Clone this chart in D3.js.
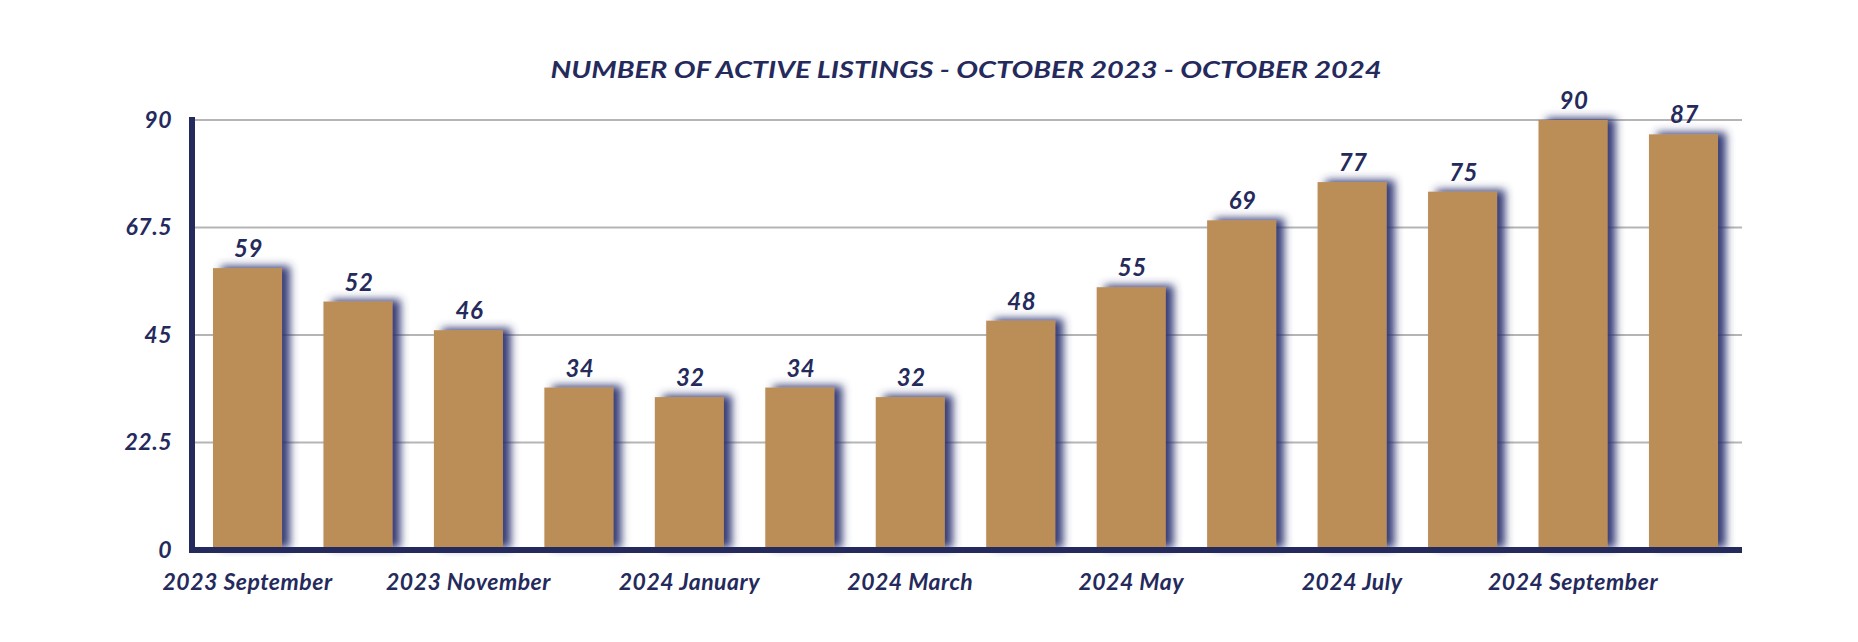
<!DOCTYPE html>
<html>
<head>
<meta charset="utf-8">
<script src="https://cdn.jsdelivr.net/npm/d3@7"></script>
<style>
html,body{margin:0;padding:0;background:#fff;}
svg{display:block;}
text{font-family:Lato,"Open Sans",sans-serif;font-weight:700;font-style:italic;fill:#252a5c;}
</style>
</head>
<body>
<svg id="chart" width="1858" height="642"></svg>
<script>
const categories = ["2023 September","2023 October","2023 November","2023 December","2024 January","2024 February","2024 March","2024 April","2024 May","2024 June","2024 July","2024 August","2024 September","2024 October"];
const listings = [59,52,46,34,32,34,32,48,55,69,77,75,90,87];
const yTicks = [0,22.5,45,67.5,90];
const yTickLabels = ["0","22.5","45","67.5","90"];
const titleText = "NUMBER OF ACTIVE LISTINGS - OCTOBER 2023 - OCTOBER 2024";

const navy = "#252a5c", gold = "#bb8e58";
const svg = d3.select("#chart");
const x0 = 192, x1 = 1742, yTop = 120, yBase = 550;

const x = d3.scaleBand().domain(categories).range([x0, 1739]).paddingInner(0.375).paddingOuter(0.19);
const y = d3.scaleLinear().domain([0, 90]).range([yBase, yTop]);

const defs = svg.append("defs");
const f = defs.append("filter").attr("id","shadow").attr("x","-30%").attr("y","-30%").attr("width","160%").attr("height","160%");
f.append("feDropShadow").attr("dx",8).attr("dy",-2).attr("stdDeviation",4)
  .attr("flood-color","#2c3170").attr("flood-opacity",0.95);

// title
const title = svg.append("text").attr("x", 966).attr("y", 78).attr("text-anchor","middle")
  .style("font-size","23px").text(titleText);
const tw = title.node().getComputedTextLength();
if (tw > 0) title.attr("textLength", 831).attr("lengthAdjust","spacingAndGlyphs");

// gridlines
svg.append("g").selectAll("line").data(yTicks.filter(d => d > 0)).join("line")
  .attr("x1", x0 + 3).attr("x2", x1).attr("y1", d => y(d)).attr("y2", d => y(d))
  .attr("stroke","#b5b5b5").attr("stroke-width",2);

// bars
svg.append("g").selectAll("rect").data(listings).join("rect")
  .attr("x", (d,i) => x(categories[i])).attr("width", x.bandwidth())
  .attr("y", d => y(d)).attr("height", d => yBase - y(d))
  .attr("fill", gold).attr("filter","url(#shadow)");

// value labels
svg.append("g").selectAll("text").data(listings).join("text")
  .attr("x", (d,i) => x(categories[i]) + x.bandwidth()/2 + 1)
  .attr("y", d => y(d) - 11).attr("text-anchor","middle")
  .style("font-size","24px").style("letter-spacing","0.5px").text(d => d);

// y axis
const yAxis = d3.axisLeft(y).tickValues(yTicks).tickFormat((d,i) => yTickLabels[i]).tickSize(0).tickPadding(20);
const gy = svg.append("g").attr("transform", `translate(${x0},0)`).call(yAxis);
gy.select(".domain").remove();
gy.selectAll("text").style("font-size","23px").style("letter-spacing","0.5px").attr("fill",navy).attr("font-family",null);

// x axis labels (every other)
const xAxis = d3.axisBottom(x).tickValues(categories.filter((d,i) => i % 2 === 0)).tickSize(0).tickPadding(24);
const gx = svg.append("g").attr("transform", `translate(0,${yBase})`).call(xAxis);
gx.select(".domain").remove();
gx.selectAll("text").style("font-size","23px").style("letter-spacing","0.5px").attr("fill",navy).attr("font-family",null);

// axis lines
svg.append("line").attr("x1", x0).attr("x2", x0).attr("y1", yTop - 3).attr("y2", yBase + 3)
  .attr("stroke", navy).attr("stroke-width", 6);
svg.append("line").attr("x1", x0 - 3).attr("x2", x1).attr("y1", yBase).attr("y2", yBase)
  .attr("stroke", navy).attr("stroke-width", 6);
</script>
</body>
</html>
